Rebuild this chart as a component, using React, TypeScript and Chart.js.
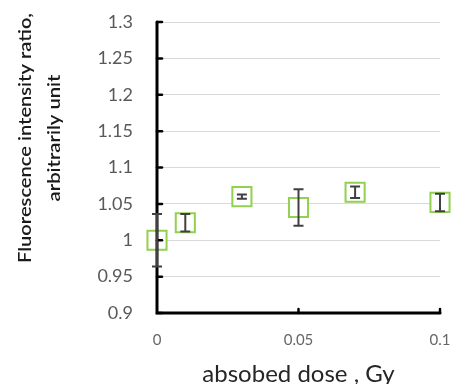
import React, { useEffect, useRef } from "react";
import { Chart, registerables } from "chart.js";

Chart.register(...registerables);

const doses = [0, 0.01, 0.03, 0.05, 0.07, 0.1];
const ratios = [1.0, 1.024, 1.06, 1.045, 1.066, 1.052];
const errors = [0.036, 0.012, 0.003, 0.025, 0.008, 0.012];
const xTicks = [0, 0.05, 0.1];
const yTitleLines = ["Fluorescence intensity ratio,", "arbitrarily unit"];
const xTitle = "absobed dose , Gy";

const FONT = "Lato, 'Open Sans', sans-serif";

const overlayPlugin = {
  id: "overlay",
  afterDatasetsDraw(chart: any) {
    const { ctx, chartArea, scales } = chart;
    const xs = scales.x;
    const ys = scales.y;
    ctx.save();
    // axes
    ctx.strokeStyle = "#000000";
    ctx.lineWidth = 3;
    ctx.lineCap = "round";
    ctx.beginPath();
    ctx.moveTo(chartArea.left, chartArea.top);
    ctx.lineTo(chartArea.left, chartArea.bottom);
    ctx.lineTo(xs.getPixelForValue(0.1), chartArea.bottom);
    ctx.stroke();
    // tick marks
    ctx.lineWidth = 2.5;
    ys.ticks.forEach((t: any) => {
      const py = ys.getPixelForValue(t.value);
      ctx.beginPath();
      ctx.moveTo(chartArea.left, py);
      ctx.lineTo(chartArea.left + 5, py);
      ctx.stroke();
    });
    xTicks.slice(1).forEach((v) => {
      const px = xs.getPixelForValue(v);
      ctx.beginPath();
      ctx.moveTo(px, chartArea.bottom);
      ctx.lineTo(px, chartArea.bottom - 4);
      ctx.stroke();
    });
    ctx.lineCap = "butt";
    // error bars
    ctx.strokeStyle = "#404040";
    ctx.lineWidth = 2;
    doses.forEach((d, i) => {
      const px = xs.getPixelForValue(d);
      const top = ys.getPixelForValue(ratios[i] + errors[i]);
      const bot = ys.getPixelForValue(ratios[i] - errors[i]);
      ctx.beginPath();
      ctx.moveTo(px, top);
      ctx.lineTo(px, bot);
      ctx.moveTo(px - 5, top);
      ctx.lineTo(px + 5, top);
      ctx.moveTo(px - 5, bot);
      ctx.lineTo(px + 5, bot);
      ctx.stroke();
    });
    // y title (two rotated lines, fitted to the reference lengths)
    ctx.fillStyle = "#1a1a1a";
    ctx.font = `600 18px ${FONT}`;
    ctx.textAlign = "center";
    ctx.textBaseline = "middle";
    const placements = [
      { x: 25, y: 138, len: 250 },
      { x: 54, y: 138, len: 127 },
    ];
    yTitleLines.forEach((line, i) => {
      const p = placements[i];
      const w = ctx.measureText(line).width || 1;
      ctx.save();
      ctx.translate(p.x, p.y);
      ctx.rotate(-Math.PI / 2);
      ctx.scale(p.len / w, 1);
      ctx.fillText(line, 0, 0);
      ctx.restore();
    });
    ctx.restore();
  },
};

export default function App() {
  const ref = useRef<HTMLCanvasElement | null>(null);
  useEffect(() => {
    document.body.style.margin = "0";
    const canvas = ref.current;
    if (!canvas) return;
    const chart = new Chart(canvas, {
      type: "scatter",
      data: {
        datasets: [
          {
            data: doses.map((d, i) => ({ x: d, y: ratios[i] })),
            pointStyle: "rect",
            pointRadius: 13.5,
            pointHoverRadius: 13.5,
            pointBorderWidth: 2,
            borderColor: "#92d050",
            backgroundColor: "#ffffff",
            clip: false as any,
          } as any,
        ],
      },
      options: {
        animation: false,
        responsive: false,
        events: [],
        layout: { autoPadding: false, padding: { left: 0, right: 15, top: 22, bottom: 0 } } as any,
        plugins: {
          legend: { display: false },
          tooltip: { enabled: false },
        },
        scales: {
          x: {
            type: "linear",
            min: 0,
            max: 0.1,
            afterBuildTicks: (s: any) => {
              s.ticks = xTicks.map((v) => ({ value: v }));
            },
            afterFit: (s: any) => {
              s.height = 71;
              s.paddingLeft = 0;
              s.paddingRight = 0;
              s.paddingTop = 0;
              s.paddingBottom = 0;
            },
            grid: { display: false, drawTicks: false },
            border: { display: false },
            ticks: {
              padding: 18,
              color: "#666666",
              font: { family: FONT, size: 15 },
              callback: (v: any) => String(v),
            },
            title: {
              display: true,
              text: xTitle,
              color: "#262626",
              font: { family: FONT, size: 24, lineHeight: 0.8 },
              padding: { top: 0, bottom: 0 },
            },
          },
          y: {
            type: "linear",
            min: 0.9,
            max: 1.3,
            afterFit: (s: any) => {
              s.width = 157;
              s.paddingLeft = 0;
              s.paddingRight = 0;
              s.paddingTop = 0;
              s.paddingBottom = 0;
            },
            grid: { color: "#d9d9d9", lineWidth: 1, drawTicks: false },
            border: { display: false },
            ticks: {
              stepSize: 0.05,
              padding: 24,
              color: "#595959",
              font: { family: FONT, size: 18 },
              callback: (v: any) => String(Math.round(Number(v) * 100) / 100),
            },
          },
        },
      },
      plugins: [overlayPlugin],
    });
    return () => chart.destroy();
  }, []);
  return <canvas ref={ref} width={455} height={384} style={{ display: "block" }} />;
}
